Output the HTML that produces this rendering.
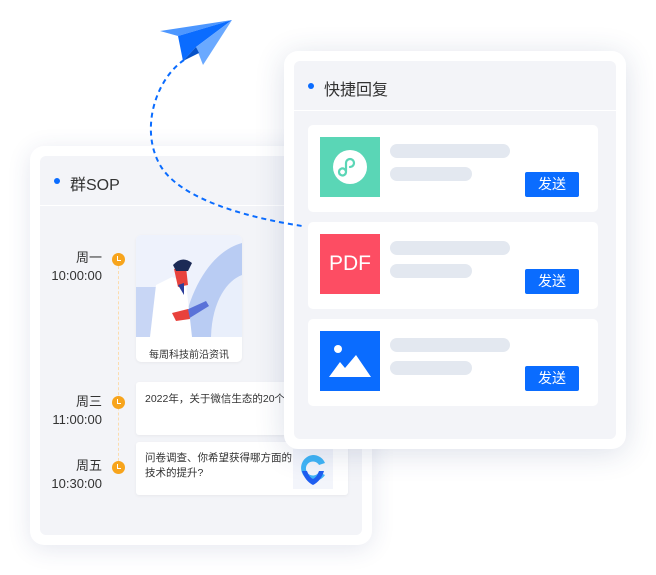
<!DOCTYPE html>
<html><head><meta charset="utf-8"><style>
*{margin:0;padding:0;box-sizing:border-box}
body{width:656px;height:575px;background:#fff;position:relative;overflow:hidden;font-family:"Liberation Sans","Noto Sans CJK SC",sans-serif;color:#333}
.a{position:absolute}
.outer{background:#fff;border-radius:14px;box-shadow:0 4px 24px rgba(40,60,120,0.12)}
.inner{background:#f3f4f8;border-radius:6px}
.dot{width:6px;height:6px;border-radius:50%;background:#0a6cff}
.bar{background:#e3e8f0;border-radius:7px;height:14px}
.btn{background:#0a6cff;color:#fff;font-size:14px;text-align:center;line-height:25px;width:54px;height:25px;border-radius:2px}
.item{background:#fff;border-radius:5px;width:290px;height:87px}
.lbl{font-size:13px;text-align:right;width:70px;line-height:18px;color:#333}
.clk{width:13px;height:13px;border-radius:50%;background:#f7a41c}
.clk:after{content:"";position:absolute;left:5px;top:3px;width:3px;height:4px;border-left:1.3px solid #fff;border-bottom:1.3px solid #fff}
.card{background:#fff;border-radius:3px;box-shadow:0 1px 3px rgba(0,0,0,0.05)}
</style></head><body>

<!-- left card -->
<div class="a outer" style="left:30px;top:146px;width:342px;height:399px"></div>
<div class="a inner" style="left:40px;top:156px;width:322px;height:379px"></div>
<div class="a dot" style="left:54px;top:178px"></div>
<div class="a" style="left:70px;top:171px;font-size:16px;color:#333">群SOP</div>
<div class="a" style="left:40px;top:205px;width:322px;height:1px;background:#fff"></div>

<div class="a" style="left:118px;top:266px;height:200px;border-left:1.5px dashed #fbdcae"></div>

<div class="a lbl" style="left:32px;top:249px">周一<br>10:00:00</div>
<div class="a clk" style="left:112px;top:253px"></div>
<div class="a lbl" style="left:32px;top:393px">周三<br>11:00:00</div>
<div class="a clk" style="left:112px;top:396px"></div>
<div class="a lbl" style="left:32px;top:457px">周五<br>10:30:00</div>
<div class="a clk" style="left:112px;top:461px"></div>

<div class="a card" style="left:136px;top:235px;width:106px;height:127px;border-radius:5px;overflow:hidden">
<svg width="106" height="102" viewBox="0 0 106 102">
<rect width="106" height="102" fill="#eef2fc"/>
<path d="M45 102 C55 45 80 15 106 8 V102Z" fill="#b9ccf3"/>
<path d="M75 102 C76 65 92 45 106 40 V102Z" fill="#e9effb"/>
<rect x="0" y="52" width="22" height="50" fill="#c8d6f5"/>
<path d="M14 102 L20 50 L36 42 L50 48 L56 102Z" fill="#fff"/>
<path d="M38 34 L50 32 L52 50 L42 52Z" fill="#e8423c"/>
<path d="M37 30 Q46 20 56 28 L52 36 L40 36Z" fill="#1b2a55"/>
<path d="M42 50 L48 48 L48 60Z" fill="#2d3e9a"/>
<path d="M48 76 L70 66 L73 71 L52 84Z" fill="#5a72d8"/>
<path d="M36 78 L52 74 L54 84 L40 86Z" fill="#e8423c"/>
</svg>
<div style="font-size:10px;text-align:center;margin-top:4px;color:#333">每周科技前沿资讯</div>
</div>

<div class="a card" style="left:136px;top:382px;width:200px;height:53px;font-size:10.5px;padding:9px 9px;white-space:nowrap">2022年，关于微信生态的20个预测</div>
<div class="a card" style="left:136px;top:442px;width:212px;height:53px;font-size:10.5px;padding:9px 9px;line-height:15px">问卷调查、你希望获得哪方面的<br>技术的提升?</div>
<div class="a" style="left:293px;top:449px;width:40px;height:40px;background:#f3f5fb">
<svg width="40" height="40" viewBox="0 0 40 40"><path d="M20 6 A13 13 0 1 0 32 26 L26 23 A7 7 0 1 1 26 16 L32 14 A13 13 0 0 0 20 6Z" fill="#3fb4f6"/><path d="M9 22 Q12 32 20 36 Q28 32 31 22 L26 22 Q24 28 20 30 Q16 28 14 22Z" fill="#1f5ef0"/></svg>
</div>

<!-- right card -->
<div class="a outer" style="left:284px;top:51px;width:342px;height:398px;box-shadow:0 4px 30px rgba(40,60,120,0.16)"></div>
<div class="a inner" style="left:294px;top:61px;width:322px;height:378px"></div>
<div class="a dot" style="left:308px;top:83px"></div>
<div class="a" style="left:324px;top:76px;font-size:16px;color:#333">快捷回复</div>
<div class="a" style="left:294px;top:110px;width:322px;height:1px;background:#fff"></div>

<div class="a item" style="left:308px;top:125px"></div>
<div class="a" style="left:320px;top:137px;width:60px;height:60px;background:#5ad6b6"><div style="position:absolute;left:13px;top:13px;width:34px;height:34px;border-radius:50%;background:#fff"><svg width="34" height="34" viewBox="0 0 34 34"><path d="M13 22 a3.5 3.5 0 1 1 0-.1 V13 a4 4 0 1 1 8 0 a4 4 0 0 1-4 4" fill="none" stroke="#5ad6b6" stroke-width="2.2" stroke-linecap="round"/></svg></div></div>
<div class="a bar" style="left:390px;top:144px;width:120px"></div>
<div class="a bar" style="left:390px;top:167px;width:82px"></div>
<div class="a btn" style="left:525px;top:172px">发送</div>

<div class="a item" style="left:308px;top:222px"></div>
<div class="a" style="left:320px;top:234px;width:60px;height:60px;background:#fd4d63;color:#fff;font-size:21px;text-align:center;line-height:60px">PDF</div>
<div class="a bar" style="left:390px;top:241px;width:120px"></div>
<div class="a bar" style="left:390px;top:264px;width:82px"></div>
<div class="a btn" style="left:525px;top:269px">发送</div>

<div class="a item" style="left:308px;top:319px"></div>
<div class="a" style="left:320px;top:331px;width:60px;height:60px;background:#0a6cff"><svg width="60" height="60" viewBox="0 0 60 60"><circle cx="18" cy="18" r="4" fill="#fff"/><path d="M9 46 L20 31 L25 37 L36 24 L51 46Z" fill="#fff"/></svg></div>
<div class="a bar" style="left:390px;top:338px;width:120px"></div>
<div class="a bar" style="left:390px;top:361px;width:82px"></div>
<div class="a btn" style="left:525px;top:366px">发送</div>

<!-- plane and path -->
<svg class="a" style="left:0;top:0" width="656" height="575">
<path d="M184 60 C155 80 140 130 160 165 C180 200 250 218 302 226" fill="none" stroke="#0a6cff" stroke-width="2" stroke-dasharray="5 4"/>
<polygon points="160,31 232,20 178,36" fill="#4d97ff"/>
<polygon points="178,36 232,20 196,47 183,61" fill="#0a6cff"/>
<polygon points="196,47 232,20 203,65" fill="#6aa9ff"/>
<polygon points="183,61 196,47 199,53" fill="#0652c8"/>
</svg>
</body></html>
